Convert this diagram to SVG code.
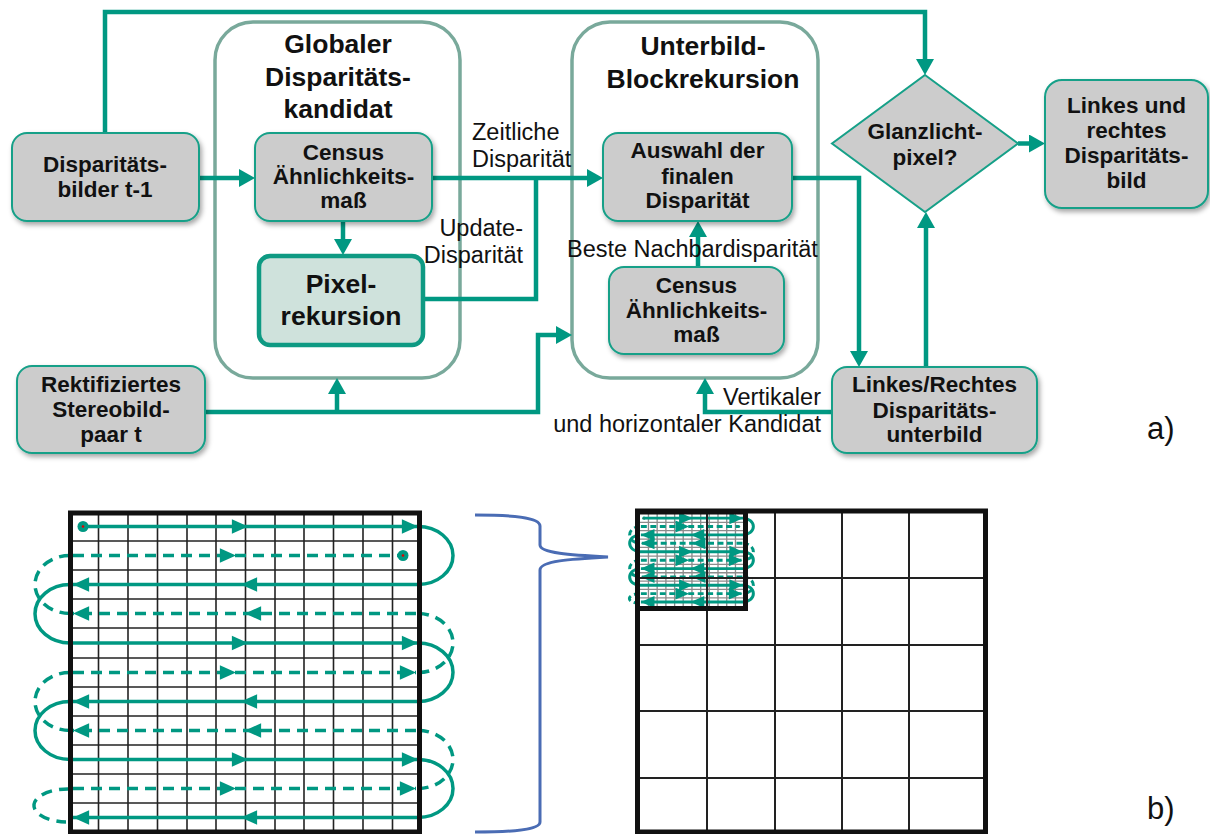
<svg xmlns="http://www.w3.org/2000/svg" xmlns:xlink="http://www.w3.org/1999/xlink" width="1210" height="834" viewBox="0 0 1210 834">
<style>
.box{fill:#cccccc;stroke:#16a088;stroke-width:2;filter:url(#sh)}
.cont{fill:none;stroke:#79a99b;stroke-width:3.5}
.pix{fill:#cfe2dc;stroke:#0e9a83;stroke-width:4.5}
.dia{fill:#cccccc;stroke:#16a088;stroke-width:2}
.t{font-family:"Liberation Sans",Arial,sans-serif;font-weight:bold;font-size:22.5px;text-anchor:middle;fill:#111}
.ti{font-size:26.5px}
.lbl{font-family:"Liberation Sans",Arial,sans-serif;font-size:23.5px;fill:#111}
.end{text-anchor:end}
.big{font-family:"Liberation Sans",Arial,sans-serif;font-size:31px;fill:#111}
.c path{fill:none;stroke:#009882;stroke-width:4.5;marker-end:url(#ah)}
.c path.nm{marker-end:none}
.gl line{stroke:var(--gc,#222);stroke-width:var(--gw,1.6)}
.tl path{fill:none;stroke:#009882;stroke-width:var(--tw,3.5)}
.dl path{fill:none;stroke:#009882;stroke-width:var(--tw,3.5);stroke-dasharray:var(--da,11 7)}
.mk{marker-mid:url(#ga);marker-end:url(#ga)}
.mm{marker-mid:url(#ga)}
.bd{fill:none;stroke:#111;stroke-width:5}
.bg line{stroke:#222;stroke-width:2}
</style>
<defs>
<filter id="sh" x="-10%" y="-10%" width="130%" height="140%">
<feDropShadow dx="2" dy="3" stdDeviation="2.5" flood-color="#000" flood-opacity="0.35"/>
</filter>
<marker id="ah" markerUnits="userSpaceOnUse" markerWidth="16" markerHeight="18" refX="10" refY="9" orient="auto" viewBox="0 0 16 18">
<path d="M0,0 L16,9 L0,18 z" fill="#009882"/>
</marker>
<marker id="ga" markerUnits="strokeWidth" markerWidth="4.6" markerHeight="4.6" refX="10" refY="5" orient="auto" viewBox="0 0 10 10" overflow="visible">
<path d="M0,0.5 L10,5 L0,9.5 z" fill="#009882"/>
</marker>
<g id="scan">
<g class="gl">
<line x1="98.5" y1="512" x2="98.5" y2="832"/>
<line x1="128" y1="512" x2="128" y2="832"/>
<line x1="157.5" y1="512" x2="157.5" y2="832"/>
<line x1="187" y1="512" x2="187" y2="832"/>
<line x1="216" y1="512" x2="216" y2="832"/>
<line x1="245.5" y1="512" x2="245.5" y2="832"/>
<line x1="275" y1="512" x2="275" y2="832"/>
<line x1="304" y1="512" x2="304" y2="832"/>
<line x1="333.5" y1="512" x2="333.5" y2="832"/>
<line x1="363" y1="512" x2="363" y2="832"/>
<line x1="392.5" y1="512" x2="392.5" y2="832"/>
<line x1="70" y1="541" x2="419" y2="541"/>
<line x1="70" y1="570" x2="419" y2="570"/>
<line x1="70" y1="599" x2="419" y2="599"/>
<line x1="70" y1="628" x2="419" y2="628"/>
<line x1="70" y1="658" x2="419" y2="658"/>
<line x1="70" y1="687" x2="419" y2="687"/>
<line x1="70" y1="716" x2="419" y2="716"/>
<line x1="70" y1="745" x2="419" y2="745"/>
<line x1="70" y1="774" x2="419" y2="774"/>
<line x1="70" y1="803" x2="419" y2="803"/>
</g>
<g class="tl">
<path class="mk" d="M83,526.5 L248,526.5 L418,526.5"/>
<path class="mk" d="M418,584.5 L241,584.5 L73,584.5"/>
<path class="mk" d="M70,643 L248,643 L418,643"/>
<path class="mk" d="M418,701.5 L241,701.5 L73,701.5"/>
<path class="mk" d="M70,759.5 L248,759.5 L418,759.5"/>
<path class="mk" d="M418,817.5 L241,817.5 L73,817.5"/>
<path d="M418,526.5 A35,29 0 0 1 418,584.5"/>
<path d="M418,643 A35,29.25 0 0 1 418,701.5"/>
<path d="M418,759.5 A35,29 0 0 1 418,817.5"/>
<path d="M70,584.5 A35,29.25 0 0 0 70,643"/>
<path d="M70,701.5 A35,29 0 0 0 70,759.5"/>
</g>
<g class="dl">
<path class="mm" d="M73,555.5 L236,555.5 L403,555.5"/>
<path class="mk" d="M416,613.5 L245,613.5 L73,613.5"/>
<path class="mk" d="M73,672.5 L236,672.5 L416,672.5"/>
<path class="mk" d="M416,730.5 L245,730.5 L73,730.5"/>
<path class="mk" d="M73,788.5 L236,788.5 L416,788.5"/>
<path d="M70,555.5 A35,29 0 0 0 70,613.5"/>
<path d="M70,672.5 A35,29 0 0 0 70,730.5"/>
<path d="M70,789 A34,16.5 0 0 0 66,822"/>
<path d="M418,613.5 A35,29.5 0 0 1 418,672.5"/>
<path d="M418,730.5 A35,29 0 0 1 418,788.5"/>
</g>
<circle cx="83" cy="526.5" r="5.5" fill="#009882"/>
<circle cx="83" cy="526.5" r="1.3" fill="#e00000"/>
<circle cx="403" cy="555.5" r="5.5" fill="#009882"/>
<circle cx="403" cy="555.5" r="1.3" fill="#e00000"/>
</g>
</defs>

<g id="containers">
<g id="n-global"><rect class="cont" x="215" y="22" width="245" height="356" rx="38"/>
<text class="t ti" x="338" y="53">Globaler</text>
<text class="t ti" x="338" y="86">Disparitäts-</text>
<text class="t ti" x="338" y="118">kandidat</text></g>
<g id="n-unterbild"><rect class="cont" x="572" y="22" width="246" height="356" rx="38"/>
<text class="t ti" x="703" y="55">Unterbild-</text>
<text class="t ti" x="703" y="88">Blockrekursion</text></g>
</g>

<g id="connectors" class="c">
<path d="M105,133 V12 H925 V69"/>
<path d="M200,178 H249"/>
<path d="M432,178 H597"/>
<path d="M343,221 V249"/>
<path class="nm" d="M423,299 H536 V178"/>
<path d="M792,178 H859 V361"/>
<path d="M926,367 V218"/>
<path d="M1018,143.5 H1039"/>
<path d="M832,412 H705 V384"/>
<path d="M205,412 H538 V335 H566"/>
<path d="M337,412 V384"/>
<path d="M698,266 V227"/>
</g>

<g id="labels">
<text class="lbl" x="472" y="140">Zeitliche</text>
<text class="lbl" x="472" y="167">Disparität</text>
<text class="lbl end" x="523" y="236">Update-</text>
<text class="lbl end" x="523" y="263">Disparität</text>
<text class="lbl" x="567" y="257">Beste Nachbardisparität</text>
<text class="lbl end" x="821" y="405">Vertikaler</text>
<text class="lbl end" x="821" y="432">und horizontaler Kandidat</text>
<text class="big" x="1147" y="439">a)</text>
<text class="big" x="1147" y="819">b)</text>
</g>

<g id="n-disp"><rect class="box" x="12" y="133" width="187" height="88" rx="15"/>
<text class="t" x="105" y="172">Disparitäts-</text>
<text class="t" x="105" y="197">bilder t-1</text></g>

<g id="n-census1"><rect class="box" x="255" y="133" width="177" height="88" rx="15"/>
<text class="t" x="343.5" y="160">Census</text>
<text class="t" x="343.5" y="184">Ähnlichkeits-</text>
<text class="t" x="343.5" y="208">maß</text></g>

<g id="n-pixel"><rect class="pix" x="259" y="256" width="164" height="89" rx="11"/>
<text class="t" style="font-size:26.5px" x="341" y="293">Pixel-</text>
<text class="t" style="font-size:26.5px" x="341" y="325">rekursion</text></g>

<g id="n-rekt"><rect class="box" x="17" y="366" width="188" height="87" rx="15"/>
<text class="t" x="111" y="392">Rektifiziertes</text>
<text class="t" x="111" y="417">Stereobild-</text>
<text class="t" x="111" y="442">paar t</text></g>

<g id="n-auswahl"><rect class="box" x="603" y="133" width="189" height="88" rx="15"/>
<text class="t" x="697.5" y="158">Auswahl der</text>
<text class="t" x="697.5" y="184">finalen</text>
<text class="t" x="697.5" y="208">Disparität</text></g>

<g id="n-census2"><rect class="box" x="609" y="267" width="175" height="87" rx="15"/>
<text class="t" x="696.5" y="293">Census</text>
<text class="t" x="696.5" y="318">Ähnlichkeits-</text>
<text class="t" x="696.5" y="342">maß</text></g>

<g id="n-lr"><rect class="box" x="832" y="367" width="205" height="86" rx="15"/>
<text class="t" x="934.5" y="392">Linkes/Rechtes</text>
<text class="t" x="934.5" y="418">Disparitäts-</text>
<text class="t" x="934.5" y="442">unterbild</text></g>

<g id="n-diamond"><polygon class="dia" points="925,75 1018,143.5 925,212 832,143.5"/>
<text class="t" x="925" y="139">Glanzlicht-</text>
<text class="t" x="925" y="165">pixel?</text></g>

<g id="n-out"><rect class="box" x="1045" y="80" width="163" height="128" rx="17"/>
<text class="t" x="1126.5" y="113">Linkes und</text>
<text class="t" x="1126.5" y="138">rechtes</text>
<text class="t" x="1126.5" y="163">Disparitäts-</text>
<text class="t" x="1126.5" y="188">bild</text></g>

<g id="grid-left">
<use xlink:href="#scan" href="#scan"/>
<rect class="bd" x="70.5" y="513" width="349" height="319"/>
</g>

<g id="brace">
<path d="M475,515 C510,515 540,517 540,526 L540,545 C540,553 570,555 608,557 C570,559 540,561 540,570 L540,822 C540,830 510,832 475,832" fill="none" stroke="#4a6cb4" stroke-width="3"/>
</g>

<g id="grid-right">
<use xlink:href="#scan" href="#scan" transform="translate(640,514) scale(0.296,0.288) translate(-70,-512)" style="--gc:#8c8c8c;--gw:4.5;--tw:10;--da:20 12"/>
<g class="bg">
<line x1="707" y1="511" x2="707" y2="832"/>
<line x1="775" y1="511" x2="775" y2="832"/>
<line x1="842" y1="511" x2="842" y2="832"/>
<line x1="909" y1="511" x2="909" y2="832"/>
<line x1="637" y1="578" x2="985" y2="578"/>
<line x1="637" y1="645" x2="985" y2="645"/>
<line x1="637" y1="711" x2="985" y2="711"/>
<line x1="637" y1="778" x2="985" y2="778"/>
</g>
<rect class="bd" x="637.5" y="511" width="348" height="321"/>
<rect class="bd" x="637.5" y="512" width="108" height="96.5"/>
</g>
</svg>
